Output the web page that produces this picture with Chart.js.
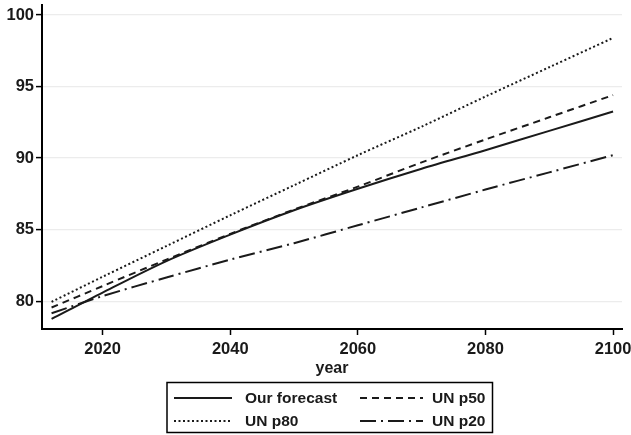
<!DOCTYPE html>
<html>
<head>
<meta charset="utf-8">
<title>Life expectancy forecast</title>
<script src="https://cdn.jsdelivr.net/npm/chart.js@4.4.1/dist/chart.umd.min.js"></script>
<style>
  html, body { margin: 0; padding: 0; background: #fff; }
  #wrap { width: 631px; height: 435px; }
</style>
</head>
<body>
<div id="wrap"><canvas id="lifeChart" width="631" height="435"></canvas></div>
<script>
const years = [2012, 2020, 2030, 2040, 2050, 2060, 2070, 2080, 2090, 2100];
const ourForecast = [78.75, 80.6, 82.8, 84.65, 86.35, 87.85, 89.25, 90.55, 91.9, 93.25];
const unP50 = [79.55, 81.05, 82.9, 84.7, 86.4, 88.0, 89.7, 91.3, 92.85, 94.4];
const unP80 = [79.95, 81.7, 83.85, 86.0, 88.1, 90.2, 92.2, 94.3, 96.35, 98.4];
const unP20 = [79.15, 80.35, 81.65, 82.9, 84.05, 85.3, 86.55, 87.8, 89.0, 90.2];

const seriesNames = ['Our forecast', 'UN p50', 'UN p80', 'UN p20'];
const xTicks = [2020, 2040, 2060, 2080, 2100];
const yTicks = [80, 85, 90, 95, 100];
const xTitle = 'year';

const FONT = "'Liberation Sans', Arial, sans-serif";
const INK = '#1a1a1a';

function toPoints(values) {
    return years.map((yr, i) => ({ x: yr, y: values[i] }));
}

function lineSet(label, values, dash) {
    return {
        label: label,
        data: toPoints(values),
        borderColor: INK,
        borderWidth: 2,
        borderDash: dash,
        pointRadius: 0,
        fill: false,
        tension: 0.3
    };
}

// legend box under the axis, 2 x 2 grid, plus the x title
const boxLegend = {
    id: 'boxLegend',
    afterDraw(chart) {
        const ctx = chart.ctx;
        const x = chart.scales.x;
        ctx.save();
        ctx.fillStyle = INK;
        ctx.font = 'bold 16px ' + FONT;
        ctx.textAlign = 'center';
        ctx.textBaseline = 'middle';
        ctx.fillText(xTitle, (x.left + x.right) / 2, 369);

        ctx.strokeStyle = '#000';
        ctx.lineWidth = 1.5;
        ctx.setLineDash([]);
        ctx.strokeRect(167, 382.5, 325.5, 50);

        const cols = [{ x0: 174, x1: 232, tx: 245 }, { x0: 360, x1: 423, tx: 432 }];
        const rows = [398, 421];
        ctx.font = 'bold 15.5px ' + FONT;
        ctx.textAlign = 'left';
        chart.data.datasets.forEach((ds, i) => {
            const c = cols[i % 2];
            const y = rows[Math.floor(i / 2)];
            ctx.beginPath();
            ctx.setLineDash(ds.borderDash || []);
            ctx.strokeStyle = ds.borderColor;
            ctx.lineWidth = ds.borderWidth;
            ctx.moveTo(c.x0, y);
            ctx.lineTo(c.x1, y);
            ctx.stroke();
            ctx.setLineDash([]);
            ctx.fillText(ds.label, c.tx, y + 1);
        });
        ctx.restore();
    }
};

new Chart(document.getElementById('lifeChart'), {
    type: 'line',
    data: {
        datasets: [
            lineSet(seriesNames[0], ourForecast, []),
            lineSet(seriesNames[1], unP50, [7, 5]),
            lineSet(seriesNames[2], unP80, [2, 2.5]),
            lineSet(seriesNames[3], unP20, [16, 5, 2, 5])
        ]
    },
    options: {
        responsive: false,
        animation: false,
        layout: { padding: { top: 5, right: 9, left: 0, bottom: 0 } },
        plugins: {
            legend: { display: false },
            tooltip: { enabled: false }
        },
        scales: {
            x: {
                type: 'linear',
                min: 2010.5,
                max: 2101.4,
                afterBuildTicks: s => { s.ticks = xTicks.map(v => ({ value: v })); },
                afterFit: s => { s.height = 106; s.paddingLeft = 0; s.paddingRight = 0; },
                grid: { drawOnChartArea: false, tickLength: 6, tickColor: '#000', tickWidth: 1.5 },
                border: { color: '#000', width: 2 },
                ticks: {
                    color: INK,
                    font: { family: FONT, size: 16.5, weight: 'bold' },
                    padding: 5,
                    maxRotation: 0,
                    callback: v => String(v)
                }
            },
            y: {
                min: 78.05,
                max: 100.7,
                afterBuildTicks: s => { s.ticks = yTicks.map(v => ({ value: v })); },
                afterFit: s => { s.width = 42; s.paddingTop = 0; s.paddingBottom = 0; },
                grid: { color: '#ececec', lineWidth: 1.2, tickLength: 6, tickColor: '#000', tickWidth: 1.5 },
                border: { color: '#000', width: 2 },
                ticks: {
                    color: INK,
                    font: { family: FONT, size: 16.5, weight: 'bold' },
                    padding: 2,
                    callback: v => String(v)
                }
            }
        }
    },
    plugins: [boxLegend]
});
</script>
</body>
</html>
